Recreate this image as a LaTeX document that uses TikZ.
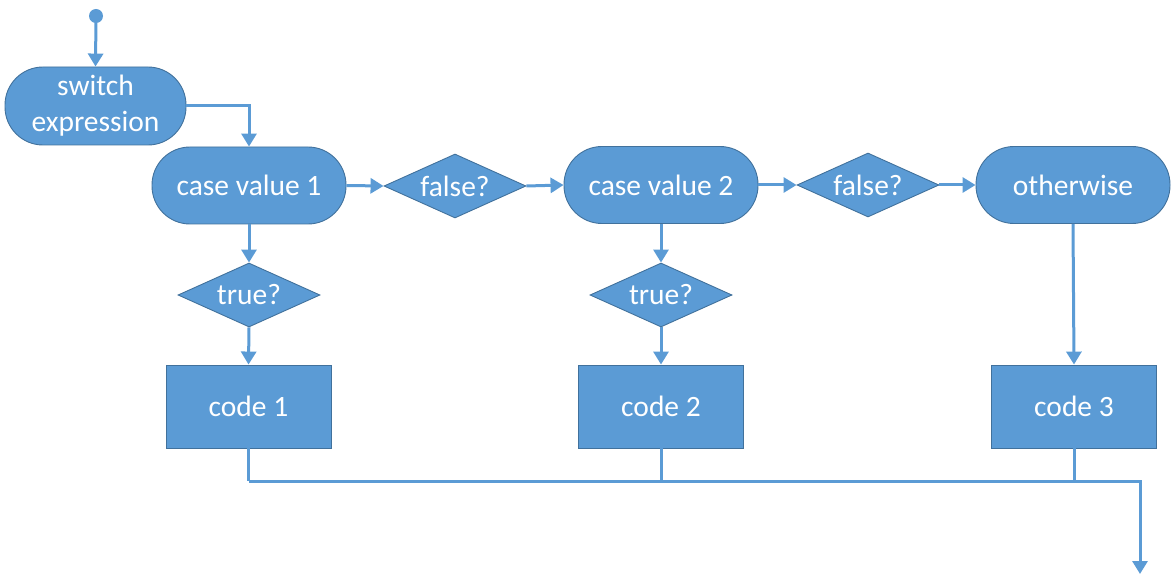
\documentclass[tikz,border=0pt]{standalone}
\usepackage{fontspec}
\setmainfont{Carlito}
\usetikzlibrary{shapes.geometric,arrows.meta}
\definecolor{fillblue}{HTML}{5B9BD5}
\definecolor{edgeblue}{HTML}{41719C}
\definecolor{lineblue}{HTML}{5B9BD5}
\begin{document}
\begin{tikzpicture}[x=1pt,y=-1pt,
  every node/.style={text=white,font=\fontsize{29.5}{34}\selectfont},
  stadium/.style={draw=edgeblue,fill=fillblue,line width=0.9pt,rectangle,rounded corners=38pt,minimum width=194pt,minimum height=77pt,inner sep=0pt,align=center},
  decide/.style={draw=edgeblue,fill=fillblue,line width=0.9pt,diamond,minimum width=142pt,minimum height=64pt,inner sep=0pt,aspect=2.2},
  codebox/.style={draw=edgeblue,fill=fillblue,line width=0.9pt,rectangle,minimum width=165pt,minimum height=83pt,inner sep=0pt},
  conn/.style={draw=lineblue,line width=3pt},
  flow/.style={conn,-{Triangle[width=15pt,length=13pt]}}
]
\useasboundingbox (0,0) rectangle (1175,577);
\fill[lineblue] (96,16) circle (7pt) coordinate (start);
\node[stadium,minimum width=181pt,minimum height=78pt,font=\fontsize{29.5}{36}\selectfont] (sw) at (95.5,106) {switch\\expression};
\node[stadium] (c1) at (249,185.5) {case value 1};
\node[decide] (f1) at (455,186) {false?};
\node[stadium] (c2) at (661,185) {case value 2};
\node[decide] (f2) at (868,185) {false?};
\node[stadium] (ow) at (1073,185) {otherwise};
\node[decide] (t1) at (249,295) {true?};
\node[decide] (t2) at (661,295) {true?};
\node[codebox] (k1) at (248.5,406.5) {code 1};
\node[codebox] (k2) at (661,406.5) {code 2};
\node[codebox] (k3) at (1074,406.5) {code 3};
\coordinate (j1) at (248.5,481);
\coordinate (j2) at (661,481);
\coordinate (j3) at (1074,481);
\coordinate (corner) at (1140,481);
\coordinate (end) at (1140,574);
\draw[flow] (96,16) -- (sw.north);
\draw[flow] (sw.east) -| (c1.north);
\draw[flow] (c1.east) -- (f1.west);
\draw[flow] (f1.east) -- (c2.west);
\draw[flow] (c2.east) -- (f2.west);
\draw[flow] (f2.east) -- (ow.west);
\draw[flow] (c1.south) -- (t1.north);
\draw[flow] (c2.south) -- (t2.north);
\draw[flow] (t1.south) -- (k1.north);
\draw[flow] (t2.south) -- (k2.north);
\draw[flow] (ow.south) -- (k3.north);
\draw[conn] (k1.south) -- (j1);
\draw[conn] (k2.south) -- (j2);
\draw[conn] (k3.south) -- (j3);
\draw[flow] (j1) -- (corner) -- (end);
\end{tikzpicture}
\end{document}
